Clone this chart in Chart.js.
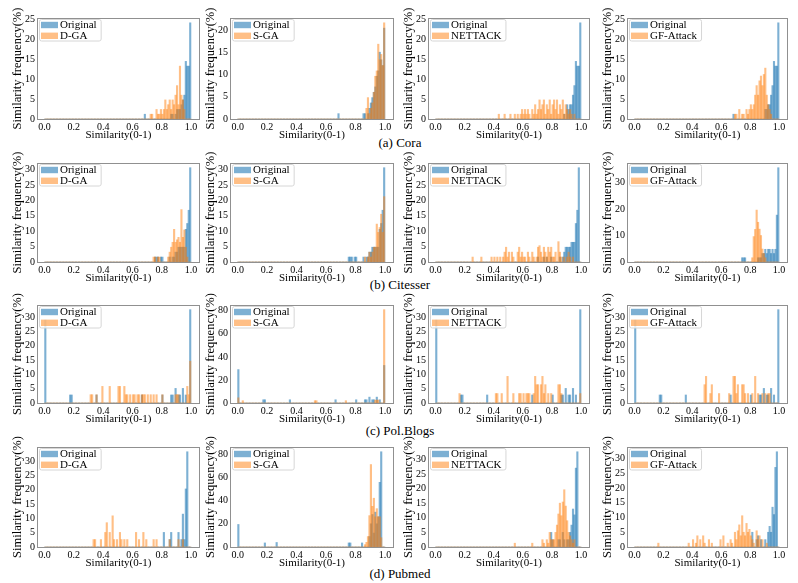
<!DOCTYPE html>
<html><head><meta charset="utf-8">
<script src="https://cdn.jsdelivr.net/npm/chart.js@4.4.1/dist/chart.umd.min.js"></script>
<style>
html,body{margin:0;padding:0;background:#fff;}
#wrap{position:relative;width:798px;height:583px;overflow:hidden;background:#fff;}
#wrap canvas{position:absolute;}
.cap{position:absolute;font-family:"Liberation Serif",serif;font-size:13px;color:#000;white-space:nowrap;transform:translate(-50%,-50%);}
</style></head><body><div id="wrap"></div>
<script>
// ---------- data ----------
const graphNames = ['Cora', 'Citesser', 'Pol.Blogs', 'Pubmed'];
const captionTags = ['(a)', '(b)', '(c)', '(d)'];
const attackNames = ['D-GA', 'S-GA', 'NETTACK', 'GF-Attack'];
const originalName = 'Original';
const xTickValues = [0.0, 0.2, 0.4, 0.6, 0.8, 1.0];
const binWidth = 0.01;
const xLabel = 'Similarity(0-1)';
const yLabel = 'Similarity frequency(%)';

// [bin left edge, frequency (%)]
const cora_dga_orig = [[0.68,1.2],[0.86,1.2],[0.87,1.2],[0.89,1.2],[0.90,2.4],[0.91,2.4],[0.92,2.4],[0.93,3.6],[0.94,4.8],[0.95,6.0],[0.96,14.5],[0.97,13.3],[0.98,13.3],[0.99,24.2]];
const cora_dga_att = [[0.72,1.2],[0.73,1.2],[0.76,2.4],[0.77,1.2],[0.78,1.2],[0.79,2.4],[0.80,1.2],[0.81,2.4],[0.82,4.8],[0.83,2.4],[0.84,3.6],[0.85,4.8],[0.86,2.4],[0.87,4.8],[0.88,3.6],[0.89,6.0],[0.90,8.4],[0.91,3.6],[0.92,13.3],[0.93,6.0],[0.94,4.8],[0.95,2.4]];
const cora_sga_orig = [[0.68,1.2],[0.85,1.2],[0.86,1.2],[0.88,1.2],[0.89,2.4],[0.90,3.6],[0.91,4.8],[0.92,6.0],[0.93,7.2],[0.94,9.6],[0.95,10.8],[0.96,15.0],[0.97,13.3],[0.98,12.0],[0.99,20.4]];
const cora_sga_att = [[0.87,2.4],[0.88,4.8],[0.89,1.2],[0.90,2.4],[0.91,3.6],[0.92,6.0],[0.93,9.6],[0.94,10.8],[0.95,16.8],[0.96,13.3],[0.97,14.5],[0.98,12.0],[0.99,21.6]];
const cora_net_orig = [[0.88,1.2],[0.90,3.6],[0.91,2.4],[0.92,3.6],[0.93,3.6],[0.94,6.0],[0.95,8.4],[0.96,14.5],[0.97,13.3],[0.98,13.3],[0.99,24.2]];
const cora_net_att = [[0.43,1.2],[0.47,1.2],[0.51,1.2],[0.54,1.2],[0.56,1.2],[0.58,1.2],[0.59,2.4],[0.60,1.2],[0.61,2.4],[0.62,1.2],[0.63,2.4],[0.64,1.2],[0.66,2.4],[0.67,1.2],[0.68,3.6],[0.69,1.2],[0.70,2.4],[0.71,4.8],[0.72,2.4],[0.73,3.6],[0.74,4.8],[0.75,1.2],[0.76,3.6],[0.77,2.4],[0.78,4.8],[0.79,1.2],[0.80,3.6],[0.81,4.8],[0.82,2.4],[0.83,4.8],[0.84,1.2],[0.85,3.6],[0.86,2.4],[0.87,4.8],[0.88,1.2],[0.89,3.6],[0.90,2.4],[0.91,1.2],[0.92,2.4],[0.93,1.2],[0.95,1.2]];
const cora_gf_orig = [[0.68,1.2],[0.90,2.4],[0.91,2.4],[0.92,3.6],[0.93,3.6],[0.94,6.0],[0.95,8.4],[0.96,14.5],[0.97,13.3],[0.98,13.3],[0.99,24.2]];
const cora_gf_att = [[0.69,1.2],[0.70,1.2],[0.72,2.4],[0.74,1.2],[0.75,1.2],[0.77,2.4],[0.78,1.2],[0.79,2.4],[0.80,3.6],[0.81,2.4],[0.82,3.6],[0.83,6.0],[0.84,8.4],[0.85,6.0],[0.86,9.6],[0.87,10.8],[0.88,8.4],[0.89,11.2],[0.90,12.8],[0.91,6.0],[0.92,3.6],[0.93,2.4],[0.94,1.2]];

const cit_dga_orig = [[0.75,1.6],[0.76,1.6],[0.77,1.6],[0.79,1.6],[0.80,1.6],[0.85,1.6],[0.87,1.6],[0.88,1.6],[0.89,3.2],[0.90,3.2],[0.91,4.8],[0.92,4.8],[0.93,4.8],[0.94,4.8],[0.95,4.8],[0.96,10.6],[0.97,12.5],[0.98,16.8],[0.99,30.6]];
const cit_dga_att = [[0.74,1.6],[0.75,1.6],[0.77,1.6],[0.78,1.6],[0.84,1.6],[0.85,3.2],[0.86,4.8],[0.87,6.4],[0.88,10.6],[0.89,6.4],[0.90,7.2],[0.91,8.0],[0.92,6.4],[0.93,17.0],[0.94,8.0],[0.95,10.4],[0.96,4.8],[0.97,1.6]];
const cit_sga_orig = [[0.75,1.6],[0.76,1.6],[0.77,1.6],[0.79,1.6],[0.80,1.6],[0.85,1.6],[0.87,1.6],[0.88,1.6],[0.89,3.2],[0.90,3.2],[0.91,4.8],[0.92,4.8],[0.93,4.8],[0.94,4.8],[0.95,4.8],[0.96,10.6],[0.97,12.5],[0.98,16.8],[0.99,30.6]];
const cit_sga_att = [[0.86,1.6],[0.88,1.6],[0.89,3.2],[0.90,1.6],[0.91,3.2],[0.92,4.8],[0.93,4.8],[0.94,12.3],[0.95,9.6],[0.96,11.2],[0.97,15.5],[0.98,9.6],[0.99,21.2]];
const cit_net_orig = [[0.70,1.6],[0.74,1.6],[0.76,1.6],[0.79,1.6],[0.85,1.6],[0.87,1.6],[0.88,3.2],[0.89,4.8],[0.90,4.8],[0.91,4.8],[0.92,4.8],[0.93,6.4],[0.94,6.4],[0.95,6.4],[0.96,12.5],[0.97,16.8],[0.98,30.6]];
const cit_net_att = [[0.25,1.6],[0.31,1.6],[0.38,1.6],[0.40,1.6],[0.42,1.6],[0.44,1.6],[0.46,1.6],[0.47,3.2],[0.48,4.8],[0.49,1.6],[0.50,3.2],[0.52,3.2],[0.53,1.6],[0.56,3.2],[0.57,4.8],[0.58,1.6],[0.59,3.2],[0.60,1.6],[0.61,1.6],[0.63,3.2],[0.64,1.6],[0.66,3.2],[0.67,1.6],[0.69,1.6],[0.70,4.8],[0.71,5.3],[0.72,3.2],[0.73,1.6],[0.74,4.8],[0.75,3.2],[0.76,1.6],[0.77,4.8],[0.78,3.2],[0.79,4.8],[0.80,1.6],[0.81,1.6],[0.82,3.2],[0.84,6.6],[0.85,3.2],[0.86,1.6],[0.88,1.6],[0.90,1.6],[0.91,3.2],[0.92,1.6],[0.94,1.6]];
const cit_gf_orig = [[0.74,1.6],[0.75,1.6],[0.76,1.6],[0.85,1.6],[0.86,1.6],[0.87,1.6],[0.88,3.2],[0.89,3.2],[0.90,4.8],[0.91,3.2],[0.92,4.8],[0.93,4.8],[0.94,3.2],[0.95,4.8],[0.96,3.2],[0.97,4.8],[0.98,17.7],[0.99,35.6]];
const cit_gf_att = [[0.81,1.6],[0.82,9.6],[0.83,12.3],[0.84,19.6],[0.85,15.0],[0.86,12.4],[0.87,10.0],[0.88,4.9],[0.89,3.2],[0.90,1.6]];

const pol_orig = [[0.00,29.0],[0.17,2.8],[0.18,2.8],[0.35,2.8],[0.66,2.8],[0.80,2.8],[0.86,2.8],[0.87,2.8],[0.89,5.1],[0.91,2.8],[0.92,2.8],[0.94,5.1],[0.96,2.8],[0.99,32.6]];
const pol_dga_att = [[0.31,2.9],[0.32,2.9],[0.35,2.9],[0.39,5.8],[0.44,5.8],[0.50,5.8],[0.51,5.8],[0.54,5.8],[0.55,2.9],[0.56,2.9],[0.58,2.9],[0.60,2.9],[0.61,2.9],[0.63,2.9],[0.64,2.9],[0.66,2.9],[0.67,2.9],[0.68,2.9],[0.70,2.9],[0.72,2.9],[0.74,2.9],[0.76,2.9],[0.80,2.9],[0.89,2.9],[0.90,2.9],[0.91,2.9],[0.97,5.8],[0.98,2.9],[0.99,14.6]];
const pol_sga_att = [[0.00,4.5],[0.03,2.0],[0.52,2.0],[0.53,2.0],[0.73,2.0],[0.93,2.5],[0.94,2.5],[0.95,2.5],[0.99,81.0]];
const pol_net_att = [[0.16,3.3],[0.41,3.3],[0.42,3.3],[0.45,3.3],[0.49,9.3],[0.53,3.3],[0.57,3.3],[0.58,3.3],[0.60,3.3],[0.62,3.3],[0.63,3.3],[0.64,3.3],[0.67,3.3],[0.68,9.3],[0.69,6.4],[0.70,6.4],[0.72,6.4],[0.73,9.3],[0.74,3.3],[0.75,6.4],[0.77,3.3],[0.79,3.3],[0.84,6.4],[0.85,6.4],[0.86,3.3],[0.99,3.3]];
const pol_gf_att = [[0.48,6.4],[0.49,9.3],[0.52,3.3],[0.53,6.4],[0.58,3.3],[0.65,3.3],[0.68,9.3],[0.69,9.3],[0.70,3.3],[0.71,6.4],[0.74,6.4],[0.75,6.4],[0.76,3.3],[0.78,3.3],[0.81,3.3],[0.83,9.3],[0.85,3.3],[0.88,3.3],[0.90,3.3],[0.92,3.3],[0.93,3.3]];

const pub_dga_orig = [[0.81,5.1],[0.85,2.6],[0.86,5.1],[0.91,5.1],[0.93,2.6],[0.94,11.5],[0.95,2.6],[0.96,20.3],[0.97,33.3]];
const pub_dga_att = [[0.33,2.6],[0.34,2.6],[0.38,2.6],[0.41,5.1],[0.42,8.5],[0.44,5.1],[0.46,10.9],[0.47,2.6],[0.49,2.6],[0.51,5.1],[0.52,2.6],[0.54,2.6],[0.56,2.6],[0.62,5.1],[0.64,2.6],[0.67,5.1],[0.69,2.6],[0.74,2.6],[0.76,2.6],[0.85,2.6],[0.91,2.6],[0.94,2.6]];
const pub_sga_orig = [[0.00,19.4],[0.18,3.5],[0.26,3.9],[0.75,3.5],[0.76,3.5],[0.84,3.5],[0.89,9.0],[0.90,20.0],[0.91,28.0],[0.92,12.0],[0.93,30.0],[0.94,20.0],[0.95,26.0],[0.96,55.7],[0.97,82.0]];
const pub_sga_att = [[0.86,2.0],[0.87,4.0],[0.88,9.0],[0.89,27.0],[0.90,71.0],[0.91,35.0],[0.92,42.0],[0.93,26.0],[0.94,33.0],[0.95,26.0],[0.96,26.0],[0.97,8.0]];
const pub_net_orig = [[0.79,5.0],[0.80,2.5],[0.84,2.5],[0.85,2.5],[0.87,5.0],[0.88,2.5],[0.90,2.5],[0.91,2.5],[0.92,5.0],[0.93,7.5],[0.94,13.0],[0.95,11.0],[0.96,27.0],[0.97,32.6]];
const pub_net_att = [[0.54,1.3],[0.66,1.3],[0.73,2.5],[0.74,1.3],[0.76,2.5],[0.77,1.3],[0.78,5.0],[0.79,2.5],[0.80,2.5],[0.81,2.5],[0.82,5.0],[0.83,7.5],[0.84,11.3],[0.85,15.0],[0.86,10.7],[0.87,15.4],[0.88,19.6],[0.89,14.0],[0.90,9.0],[0.91,5.0],[0.92,3.8],[0.93,2.5],[0.94,1.3],[0.95,2.5]];
const pub_gf_orig = [[0.81,5.0],[0.84,2.5],[0.85,3.8],[0.87,2.5],[0.90,2.5],[0.92,5.0],[0.93,7.0],[0.94,5.0],[0.95,13.5],[0.96,11.0],[0.97,27.0],[0.98,32.3]];
const pub_gf_att = [[0.16,1.3],[0.37,1.3],[0.40,2.5],[0.42,1.3],[0.43,3.8],[0.45,2.5],[0.47,3.8],[0.48,1.3],[0.51,2.5],[0.53,1.3],[0.59,2.5],[0.61,3.8],[0.64,1.3],[0.66,2.5],[0.67,1.3],[0.69,5.0],[0.70,2.5],[0.71,5.5],[0.72,7.5],[0.73,3.8],[0.74,10.6],[0.75,5.0],[0.76,3.8],[0.77,8.0],[0.78,5.0],[0.79,6.0],[0.80,3.8],[0.81,2.5],[0.82,1.3],[0.84,5.5],[0.85,2.5],[0.86,3.8],[0.88,2.5],[0.91,1.3]];

const panelSeries = [
  [[cora_dga_orig, cora_dga_att], [cora_sga_orig, cora_sga_att], [cora_net_orig, cora_net_att], [cora_gf_orig, cora_gf_att]],
  [[cit_dga_orig, cit_dga_att], [cit_sga_orig, cit_sga_att], [cit_net_orig, cit_net_att], [cit_gf_orig, cit_gf_att]],
  [[pol_orig, pol_dga_att], [pol_orig, pol_sga_att], [pol_orig, pol_net_att], [pol_orig, pol_gf_att]],
  [[pub_dga_orig, pub_dga_att], [pub_sga_orig, pub_sga_att], [pub_net_orig, pub_net_att], [pub_gf_orig, pub_gf_att]]
];

// ---------- layout (page pixels) ----------
const colLeft = [38, 231, 429, 628];
const colWidth = [161, 162, 160, 159];
const rowTop = [18, 163, 305, 447];
const rowBottom = [119, 262, 403, 547];
const captionY = [143, 285, 431, 574];
const padTop = 16, padRight = 6, yAxisW = 34, xAxisH = 34;

const blueFill = 'rgba(31,119,180,0.58)';
const orangeFill = 'rgba(255,127,14,0.5)';
Chart.defaults.font.family = '"Liberation Serif", "Times New Roman", serif';
Chart.defaults.color = '#000';

function toBins(pairs) {
  const nBins = Math.round(1 / binWidth);
  const vals = new Array(nBins).fill(0);
  pairs.forEach(([edge, f]) => { vals[Math.round(edge / binWidth)] = f; });
  return vals.map((v, k) => ({ x: (k + 0.5) * binWidth, y: v }));
}

const frameAndLegend = {
  id: 'frameAndLegend',
  afterDatasetsDraw(chart) {
    const { ctx, chartArea: a } = chart;
    ctx.save();
    ctx.strokeStyle = '#909090';
    ctx.lineWidth = 1;
    ctx.strokeRect(Math.round(a.left) - 0.5, Math.round(a.top) + 0.5, Math.round(a.right - a.left) + 1, Math.round(a.bottom - a.top));
    // legend inside upper left
    const ds = chart.data.datasets;
    ctx.font = '11px "Liberation Serif"';
    const tw = Math.max(...ds.map(d => ctx.measureText(d.label).width));
    const x0 = a.left + 1.5, y0 = a.top + 1.5;
    const w = 21.5 + tw + 3.5, h = 21.5, r = 2;
    ctx.beginPath();
    ctx.moveTo(x0 + r, y0); ctx.lineTo(x0 + w - r, y0); ctx.quadraticCurveTo(x0 + w, y0, x0 + w, y0 + r);
    ctx.lineTo(x0 + w, y0 + h - r); ctx.quadraticCurveTo(x0 + w, y0 + h, x0 + w - r, y0 + h);
    ctx.lineTo(x0 + r, y0 + h); ctx.quadraticCurveTo(x0, y0 + h, x0, y0 + h - r);
    ctx.lineTo(x0, y0 + r); ctx.quadraticCurveTo(x0, y0, x0 + r, y0); ctx.closePath();
    ctx.fillStyle = 'rgba(255,255,255,0.8)'; ctx.fill();
    ctx.strokeStyle = '#d6d6d6'; ctx.stroke();
    ds.forEach((d, i) => {
      const cy = y0 + 5.5 + i * 10.8;
      ctx.fillStyle = d.backgroundColor;
      ctx.fillRect(x0 + 1.5, cy - 3.2, 17, 6.4);
      ctx.fillStyle = '#000';
      ctx.textBaseline = 'middle';
      ctx.textAlign = 'left';
      ctx.fillText(d.label, x0 + 20.5, cy + 0.5);
    });
    ctx.restore();
  }
};

const wrap = document.getElementById('wrap');
for (let r = 0; r < 4; r++) {
  const cap = document.createElement('div');
  cap.className = 'cap';
  cap.style.left = '400px';
  cap.style.top = captionY[r] + 'px';
  cap.textContent = captionTags[r] + ' ' + graphNames[r];
  wrap.appendChild(cap);
  for (let c = 0; c < 4; c++) {
    const [orig, att] = panelSeries[r][c];
    const plotH = rowBottom[r] - rowTop[r];
    const cv = document.createElement('canvas');
    const W = colWidth[c] + yAxisW + padRight, H = plotH + padTop + xAxisH;
    cv.width = W; cv.height = H;
    cv.style.width = W + 'px'; cv.style.height = H + 'px';
    cv.style.left = (colLeft[c] - yAxisW) + 'px';
    cv.style.top = (rowTop[r] - padTop) + 'px';
    wrap.appendChild(cv);
    const maxVal = Math.max(...orig.map(p => p[1]), ...att.map(p => p[1]));
    const yMax = maxVal * 1.05;
    const yStep = maxVal > 50 ? 10 : 5;
    new Chart(cv, {
      type: 'bar',
      data: {
        datasets: [
          { label: originalName, data: toBins(orig), backgroundColor: blueFill, borderWidth: 0, order: 1 },
          { label: attackNames[c], data: toBins(att), backgroundColor: orangeFill, borderWidth: 0, order: 0 }
        ]
      },
      options: {
        responsive: false, animation: false, devicePixelRatio: 1,
        layout: { padding: { top: padTop, right: padRight, left: 0, bottom: 0 } },
        datasets: { bar: { grouped: false, barPercentage: 1, categoryPercentage: 1 } },
        plugins: { legend: { display: false }, tooltip: { enabled: false } },
        scales: {
          x: {
            type: 'linear', min: -0.045, max: 1.055, offset: false,
            grid: { display: false, drawTicks: false }, border: { display: false },
            afterBuildTicks: s => { s.ticks = xTickValues.map(v => ({ value: v })); },
            ticks: { autoSkip: false, maxRotation: 0, padding: 2, font: { size: 10 }, callback: v => Number(v).toFixed(1) },
            title: { display: true, text: xLabel, font: { size: 11 }, padding: { top: 0, bottom: 11.4 } },
            afterFit: s => { s.height = xAxisH; }
          },
          y: {
            min: 0, max: yMax,
            grid: { display: false, drawTicks: false }, border: { display: false },
            ticks: { stepSize: yStep, includeBounds: false, padding: 3, font: { size: 10 } },
            title: { display: true, text: yLabel, font: { size: 12.5 }, padding: { top: 6.5, bottom: 0 } },
            afterFit: s => { s.width = yAxisW; }
          }
        }
      },
      plugins: [frameAndLegend]
    });
  }
}
</script></body></html>
